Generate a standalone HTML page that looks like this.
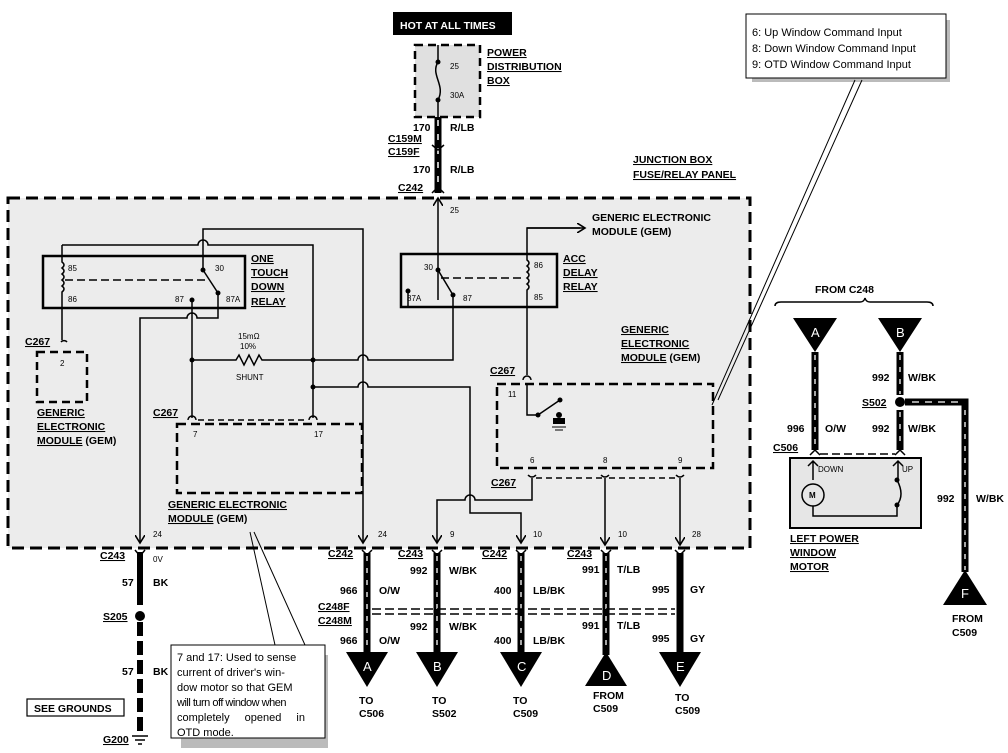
<!DOCTYPE html>
<html><head><meta charset="utf-8"><style>
html,body{margin:0;padding:0;background:#fff}
svg{display:block}
text{font-family:"Liberation Sans",Arial,sans-serif;font-weight:bold;fill:#000}
.s{font-size:8px;font-weight:normal}
.m{font-size:10.5px}
.u{text-decoration:underline}
</style></head><body>
<svg width="1008" height="753" viewBox="0 0 1008 753" xmlns="http://www.w3.org/2000/svg">
<defs>
<marker id="ar" markerWidth="10" markerHeight="10" refX="8" refY="5" orient="auto" markerUnits="userSpaceOnUse"><path d="M0,0 L8,5 L0,10" fill="none" stroke="#000" stroke-width="1.6"/></marker>
</defs>
<rect x="8" y="198" width="742" height="350" fill="#ececec" stroke="#000" stroke-width="3" stroke-dasharray="12,6"/>
<rect x="393" y="12" width="119" height="23" fill="#000"/>
<text x="400" y="29" style="font-size:10.5px;fill:#fff">HOT AT ALL TIMES</text>
<rect x="415" y="45" width="65" height="72" fill="#e0e0e0" stroke="#000" stroke-width="2.5" stroke-dasharray="8,5"/>
<path d="M438,45 V62 C430,75 446,85 438,100 V117" fill="none" stroke="#000" stroke-width="1.5"/>
<circle cx="438" cy="62" r="2.5"/><circle cx="438" cy="100" r="2.5"/>
<text x="450" y="69" class="s">25</text><text x="450" y="98" class="s">30A</text>
<text x="487" y="56" class="m u">POWER</text><text x="487" y="70" class="m u">DISTRIBUTION</text><text x="487" y="84" class="m u">BOX</text>
<g stroke="#000" fill="none">
<line x1="438" y1="117" x2="438" y2="193" stroke-width="7"/>
<line x1="438" y1="120" x2="438" y2="190" stroke="#fff" stroke-width="1.5" stroke-dasharray="6,8"/>
<path d="M432,145 L438,150 L444,145" stroke-width="1.5"/>
<path d="M432,193 L438,187 L444,193" stroke-width="1.5"/>
</g>
<text x="413" y="131" class="m">170</text><text x="450" y="131" class="m">R/LB</text>
<text x="388" y="142" class="m u">C159M</text><text x="388" y="155" class="m u">C159F</text>
<text x="413" y="173" class="m">170</text><text x="450" y="173" class="m">R/LB</text>
<text x="398" y="191" class="m u">C242</text>
<text x="633" y="163" class="m u">JUNCTION BOX</text><text x="633" y="178" class="m u">FUSE/RELAY PANEL</text>
<rect x="752" y="20" width="198" height="62" fill="#bbb"/>
<rect x="746" y="14" width="200" height="64" fill="#fff" stroke="#000" stroke-width="1"/>
<text x="752" y="36" style="font-size:11px;font-weight:normal">6: Up Window Command Input</text>
<text x="752" y="52" style="font-size:11px;font-weight:normal">8: Down Window Command Input</text>
<text x="752" y="68" style="font-size:11px;font-weight:normal">9: OTD Window Command Input</text>
<path d="M712,405 L855,80 M718,400 L862,80" stroke="#000" stroke-width="1" fill="none"/>

<g stroke="#000" stroke-width="1.5" fill="none">
<rect x="43" y="256" width="202" height="52" stroke-width="2.5"/>
<rect x="401" y="254" width="156" height="53" stroke-width="2.5"/>
<line x1="65" y1="280" x2="205" y2="280" stroke-dasharray="8,4"/>
<line x1="441" y1="278" x2="524" y2="278" stroke-dasharray="8,4"/>
<path d="M62,245 V262 q4,3 0,6 q4,3 0,6 q4,3 0,6 q4,3 0,6 q4,3 0,6 V340"/>
<path d="M62,245 H198 a5,5 0 0 1 10,0 H313 V418"/>
<path d="M203,270 V229 H363 V543" marker-end="url(#ar)"/>
<path d="M203,270 L218,293"/>
<path d="M192,300 V418"/>
<path d="M218,293 V318 H197 a5,5 0 0 0 -10,0 H140 V543" marker-end="url(#ar)"/>
<path d="M192,360 H236 l3,-5 l5,10 l5,-10 l5,10 l5,-10 l3,5 H313"/>
<path d="M313,360 H358 a5,5 0 0 1 10,0 H453 V300"/>
<path d="M313,387 H358 a5,5 0 0 1 10,0 H470 V513 H521 V543" marker-end="url(#ar)"/>
<path d="M532,478 V500 H475 a5,5 0 0 0 -10,0 H437 V543" marker-end="url(#ar)"/>
<path d="M605,478 V545" marker-end="url(#ar)"/>
<path d="M680,478 V545" marker-end="url(#ar)"/>
<path d="M438,300 V198" marker-end="url(#ar)"/>
<path d="M438,270 L453,295"/>
<path d="M408,290 V307"/>
<path d="M453,295 V300"/>
<path d="M527,375 V290 q4,-3 0,-6 q4,-3 0,-6 q4,-3 0,-6 q4,-3 0,-6 q4,-3 0,-6 V228 H580" />
<path d="M527,228 H585" marker-end="url(#ar)"/>
<path d="M527,385 V415 H538 L560,400"/>
<path d="M61,342 a4,4 0 0 1 6,0"/>
<path d="M188,420 a4,4 0 0 1 8,0 M309,420 a4,4 0 0 1 8,0 M523,380 a4,4 0 0 1 8,0"/>
<path d="M198,420 H307" stroke-dasharray="6,4"/>
<path d="M536,478 H602 M609,478 H677" stroke-dasharray="6,4"/>
<path d="M528,475 q4,4 8,0 M601,475 q4,4 8,0 M676,475 q4,4 8,0"/>
</g>
<circle cx="203" cy="270" r="2.5"/><circle cx="218" cy="293" r="2.5"/><circle cx="192" cy="300" r="2.5"/>
<circle cx="192" cy="360" r="2.5"/><circle cx="313" cy="360" r="2.5"/><circle cx="313" cy="387" r="2.5"/>
<circle cx="438" cy="270" r="2.5"/><circle cx="453" cy="295" r="2.5"/><circle cx="408" cy="291" r="2.5"/>
<circle cx="538" cy="415" r="2.5"/><circle cx="560" cy="400" r="2.5"/>
<circle cx="559" cy="415" r="3"/><path d="M553,424 h12 v-6 h-12z" fill="#000"/><path d="M552,427 h14 M555,430 h8" stroke="#000"/>
<text x="68" y="271" class="s">85</text><text x="68" y="302" class="s">86</text>
<text x="215" y="271" class="s">30</text><text x="175" y="302" class="s">87</text><text x="226" y="302" class="s">87A</text>
<text x="251" y="262" class="m u">ONE</text><text x="251" y="276" class="m u">TOUCH</text><text x="251" y="290" class="m u">DOWN</text><text x="251" y="305" class="m u">RELAY</text>
<text x="424" y="270" class="s">30</text><text x="407" y="301" class="s">87A</text><text x="463" y="301" class="s">87</text>
<text x="534" y="268" class="s">86</text><text x="534" y="300" class="s">85</text>
<text x="563" y="262" class="m u">ACC</text><text x="563" y="276" class="m u">DELAY</text><text x="563" y="290" class="m u">RELAY</text>
<text x="592" y="221" class="m">GENERIC ELECTRONIC</text><text x="592" y="235" class="m">MODULE (GEM)</text>
<text x="450" y="213" class="s">25</text>
<text x="238" y="339" class="s">15mΩ</text><text x="240" y="349" class="s">10%</text><text x="236" y="380" class="s">SHUNT</text>
<rect x="37" y="352" width="50" height="50" fill="none" stroke="#000" stroke-width="2.5" stroke-dasharray="8,5"/>
<text x="60" y="366" class="s">2</text>
<text x="25" y="345" class="m u">C267</text>
<text x="37" y="416" class="m u">GENERIC</text><text x="37" y="430" class="m u">ELECTRONIC</text><text x="37" y="444" class="m"><tspan class="u">MODULE</tspan> (GEM)</text>
<rect x="177" y="424" width="185" height="69" fill="none" stroke="#000" stroke-width="2.5" stroke-dasharray="9,5"/>
<text x="193" y="437" class="s">7</text><text x="314" y="437" class="s">17</text>
<text x="153" y="416" class="m u">C267</text>
<text x="168" y="508" class="m u">GENERIC ELECTRONIC</text><text x="168" y="522" class="m"><tspan class="u">MODULE</tspan> (GEM)</text>
<rect x="497" y="384" width="216" height="84" fill="none" stroke="#000" stroke-width="2.5" stroke-dasharray="9,5"/>
<text x="508" y="397" class="s">11</text><text x="530" y="463" class="s">6</text><text x="603" y="463" class="s">8</text><text x="678" y="463" class="s">9</text>
<text x="490" y="374" class="m u">C267</text><text x="491" y="486" class="m u">C267</text>
<text x="621" y="333" class="m u">GENERIC</text><text x="621" y="347" class="m u">ELECTRONIC</text><text x="621" y="361" class="m"><tspan class="u">MODULE</tspan> (GEM)</text>
<text x="153" y="537" class="s">24</text><text x="378" y="537" class="s">24</text><text x="450" y="537" class="s">9</text>
<text x="533" y="537" class="s">10</text><text x="618" y="537" class="s">10</text><text x="692" y="537" class="s">28</text>
<path d="M250,532 L275,645 M254,532 L305,645" stroke="#000" stroke-width="1" fill="none"/>
<g stroke="#000" fill="none">
<path d="M140,552 V605" stroke-width="6"/>
<path d="M140,622 V732" stroke-width="6" stroke-dasharray="14,5"/>
<path d="M135,550 L140,556 L145,550" stroke-width="1.5"/>
</g>
<circle cx="140" cy="616" r="5"/>
<path d="M132,736 h16 M135,740 h10 M138,744 h4" stroke="#000" stroke-width="1.5"/>
<text x="100" y="559" class="m u">C243</text><text x="153" y="562" class="s">0V</text>
<text x="122" y="586" class="m">57</text><text x="153" y="586" class="m">BK</text>
<text x="103" y="620" class="m u">S205</text>
<text x="122" y="675" class="m">57</text><text x="153" y="675" class="m">BK</text>
<text x="103" y="743" class="m u">G200</text>
<rect x="27" y="699" width="97" height="17" fill="none" stroke="#000" stroke-width="1.2"/>
<text x="34" y="712" class="m">SEE GROUNDS</text>
<rect x="181" y="655" width="147" height="93" fill="#bbb"/>
<rect x="171" y="645" width="154" height="93" fill="#fff" stroke="#000"/>
<g style="font-size:11px;font-weight:normal">
<text x="177" y="661" style="font-weight:normal">7 and 17: Used to sense</text>
<text x="177" y="676" style="font-weight:normal">current of driver's win-</text>
<text x="177" y="691" style="font-weight:normal">dow motor so that GEM</text>
<text x="177" y="706" style="font-weight:normal;letter-spacing:-0.5px">will turn off window when</text>
<text x="177" y="721" style="font-weight:normal;word-spacing:12px">completely opened in</text>
<text x="177" y="736" style="font-weight:normal">OTD mode.</text>
</g>
<g stroke="#000" fill="none">
<path d="M367,553 V655 M437,553 V655 M521,553 V655 M606,553 V655 M680,553 V655" stroke-width="7"/>
<path d="M367,556 V652 M437,556 V652 M521,556 V652 M606,556 V652" stroke="#fff" stroke-width="1.3" stroke-dasharray="5,7"/>
<path d="M362,550 l5,5 l5,-5 M432,550 l5,5 l5,-5 M516,550 l5,5 l5,-5 M601,550 l5,5 l5,-5 M675,550 l5,5 l5,-5" stroke-width="1.5"/>
<path d="M372,609 H675" stroke-width="1.5" stroke-dasharray="9,4"/>
<path d="M372,614 H675" stroke-width="1.5" stroke-dasharray="9,4"/>
</g>
<g fill="#000">
<path d="M346,652 h42 l-21,35z"/><path d="M416,652 h42 l-21,35z"/><path d="M500,652 h42 l-21,35z"/>
<path d="M585,686 h42 l-21,-34z"/><path d="M659,652 h42 l-21,35z"/>
</g>
<g style="font-size:13px;fill:#fff;font-weight:normal">
<text x="363" y="671" style="fill:#fff;font-weight:normal">A</text><text x="433" y="671" style="fill:#fff;font-weight:normal">B</text><text x="517" y="671" style="fill:#fff;font-weight:normal">C</text><text x="602" y="680" style="fill:#fff;font-weight:normal">D</text><text x="676" y="671" style="fill:#fff;font-weight:normal">E</text>
</g>
<text x="328" y="557" class="m u">C242</text><text x="398" y="557" class="m u">C243</text><text x="482" y="557" class="m u">C242</text><text x="567" y="557" class="m u">C243</text>
<text x="410" y="574" class="m">992</text><text x="449" y="574" class="m">W/BK</text>
<text x="340" y="594" class="m">966</text><text x="379" y="594" class="m">O/W</text>
<text x="494" y="594" class="m">400</text><text x="533" y="594" class="m">LB/BK</text>
<text x="582" y="573" class="m">991</text><text x="617" y="573" class="m">T/LB</text>
<text x="652" y="593" class="m">995</text><text x="690" y="593" class="m">GY</text>
<text x="318" y="610" class="m u">C248F</text><text x="318" y="624" class="m u">C248M</text>
<text x="410" y="630" class="m">992</text><text x="449" y="630" class="m">W/BK</text>
<text x="340" y="644" class="m">966</text><text x="379" y="644" class="m">O/W</text>
<text x="494" y="644" class="m">400</text><text x="533" y="644" class="m">LB/BK</text>
<text x="582" y="629" class="m">991</text><text x="617" y="629" class="m">T/LB</text>
<text x="652" y="642" class="m">995</text><text x="690" y="642" class="m">GY</text>
<text x="359" y="704" class="m">TO</text><text x="359" y="717" class="m">C506</text>
<text x="432" y="704" class="m">TO</text><text x="432" y="717" class="m">S502</text>
<text x="513" y="704" class="m">TO</text><text x="513" y="717" class="m">C509</text>
<text x="593" y="699" class="m">FROM</text><text x="593" y="712" class="m">C509</text>
<text x="675" y="701" class="m">TO</text><text x="675" y="714" class="m">C509</text>
<text x="815" y="293" class="m">FROM C248</text>
<path d="M775,306 q0,-4 6,-4 H860 q4,0 5,-4 q1,4 5,4 H927 q6,0 6,4" fill="none" stroke="#000" stroke-width="1.5"/>
<path d="M793,318 h44 l-22,34z M878,318 h44 l-22,34z" fill="#000"/>
<text x="811" y="337" style="font-size:13px;fill:#fff;font-weight:normal">A</text><text x="896" y="337" style="font-size:13px;fill:#fff;font-weight:normal">B</text>
<g stroke="#000" fill="none">
<path d="M815,352 V450 M900,352 V395 M900,410 V450 M905,402 H965 V572" stroke-width="7"/>
<path d="M815,355 V448 M900,355 V394 M900,412 V448 M965,410 V570" stroke="#fff" stroke-width="1.3" stroke-dasharray="5,7"/>
<path d="M912,402 H958" stroke="#fff" stroke-width="1.3" stroke-dasharray="7,6"/>
<path d="M810,455 l5,-5 l5,5 M895,455 l5,-5 l5,5" stroke-width="1.5"/>
<path d="M820,454 H895" stroke-width="1.5" stroke-dasharray="8,4"/>
</g>
<circle cx="900" cy="402" r="5"/>
<path d="M943,605 h44 l-22,-35z" fill="#000"/>
<text x="961" y="598" style="font-size:13px;fill:#fff;font-weight:normal">F</text>
<text x="872" y="381" class="m">992</text><text x="908" y="381" class="m">W/BK</text>
<text x="862" y="406" class="m u">S502</text>
<text x="787" y="432" class="m">996</text><text x="825" y="432" class="m">O/W</text>
<text x="872" y="432" class="m">992</text><text x="908" y="432" class="m">W/BK</text>
<text x="773" y="451" class="m u">C506</text>
<text x="937" y="502" class="m">992</text><text x="976" y="502" class="m">W/BK</text>
<text x="952" y="622" class="m">FROM</text><text x="952" y="636" class="m">C509</text>
<rect x="790" y="458" width="131" height="70" fill="#e6e6e6" stroke="#000" stroke-width="2"/>
<g stroke="#000" fill="none" stroke-width="1.5">
<path d="M813,480 V462 M808,466 l5,-5 l5,5 M898,480 V462 M893,466 l5,-5 l5,5"/>
<circle cx="813" cy="495" r="11"/>
<path d="M813,506 V516 H897 V505 q8,-10 0,-25"/>
</g>
<circle cx="897" cy="480" r="2.5"/><circle cx="897" cy="505" r="2.5"/>
<text x="809" y="498" class="s" style="font-weight:bold">M</text>
<text x="818" y="472" class="s">DOWN</text><text x="902" y="472" class="s">UP</text>
<text x="790" y="542" class="m u">LEFT POWER</text><text x="790" y="556" class="m u">WINDOW</text><text x="790" y="570" class="m u">MOTOR</text>
</svg>
</body></html>
